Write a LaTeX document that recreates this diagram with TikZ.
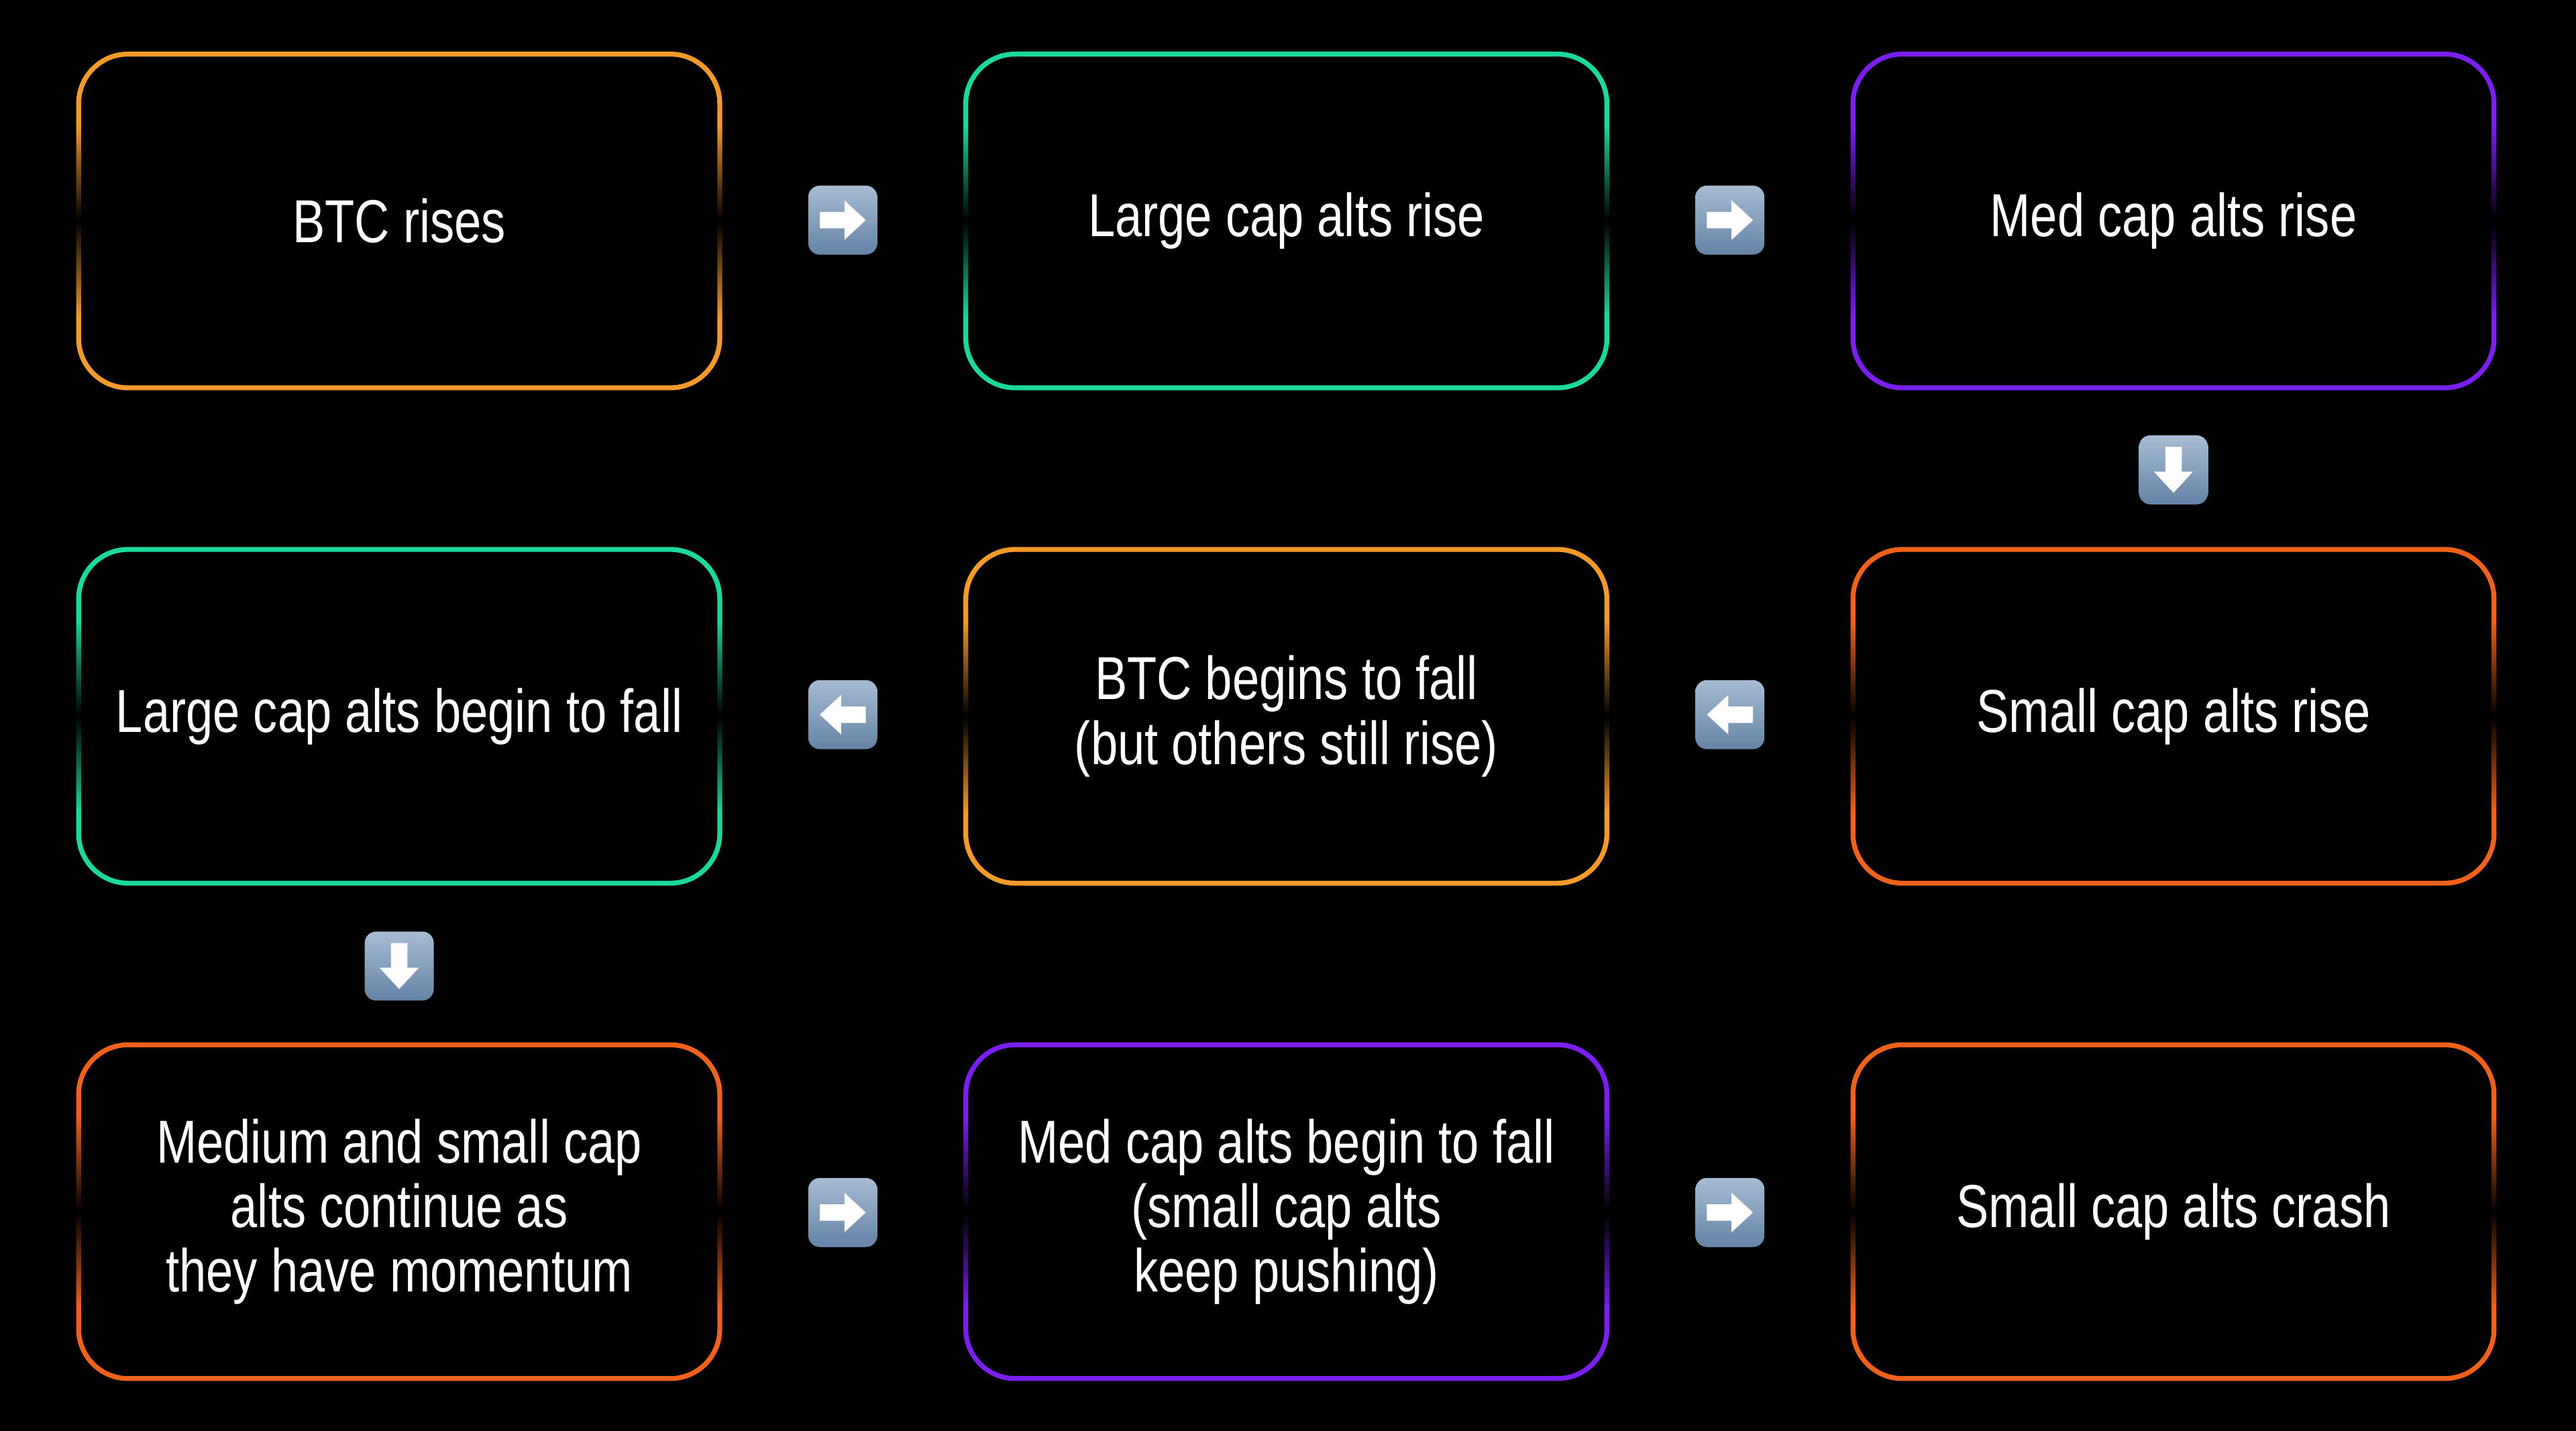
\documentclass[tikz,border=0pt]{standalone}
\usepackage{fontspec}
\setmainfont{Liberation Sans}[FakeStretch=0.8]
\usetikzlibrary{fadings}
\definecolor{cOr}{HTML}{F39A2A}
\definecolor{cRd}{HTML}{F0621C}
\definecolor{cGr}{HTML}{1BD99B}
\definecolor{cPu}{HTML}{7A1FF0}
\definecolor{icTop}{HTML}{A7BCD3}
\definecolor{icBot}{HTML}{6483A6}
\tikzfading[name=midfade, top color=transparent!100, bottom color=transparent!100, middle color=transparent!0]
\begin{document}
\begin{tikzpicture}[x=0.01cm,y=-0.01cm,
  box/.style={draw=#1, line width=0.85pt, rounded corners=0.3cm, minimum width=3.9cm, minimum height=2.03cm, text=white, align=center, font=\fontsize{10.5}{11.2}\selectfont},
  icon/.style={rounded corners=0.07cm, top color=icTop, bottom color=icBot, draw=none, minimum size=0.42cm, inner sep=0}]
\fill[black] (0,0) rectangle (1568,871);
\useasboundingbox (0,0) rectangle (1568,871);
\node[box=cOr] (a) at (243,134.5) {BTC rises};
\node[box=cGr] (b) at (783,134.5) {Large cap alts rise};
\node[box=cPu] (c) at (1323,134.5) {Med cap alts rise};
\node[box=cGr] (d) at (243,436) {Large cap alts begin to fall};
\node[box=cOr] (e) at (783,436) {BTC begins to fall\\(but others still rise)};
\node[box=cRd] (f) at (1323,436) {Small cap alts rise};
\node[box=cRd] (g) at (243,737.5) {Medium and small cap\\alts continue as\\they have momentum};
\node[box=cPu] (h) at (783,737.5) {Med cap alts begin to fall\\(small cap alts\\keep pushing)};
\node[box=cRd] (i) at (1323,737.5) {Small cap alts crash};
% fade middle of vertical sides
\foreach \n in {a,b,c,d,e,f,g,h,i}{
  \fill[black,path fading=midfade] ([xshift=-3pt,yshift=-0.45cm]\n.north west) rectangle ([xshift=3pt,yshift=0.45cm]\n.south west);
  \fill[black,path fading=midfade] ([xshift=-3pt,yshift=-0.45cm]\n.north east) rectangle ([xshift=3pt,yshift=0.45cm]\n.south east);
}
% icons
\foreach \nm/\x/\y/\r in {i1/513/134/0, i2/1053/134/0, i3/1323/286/-90, i4/513/435/180, i5/1053/435/180, i6/243/588/-90, i7/513/738/0, i8/1053/738/0}{
  \node[icon] (\nm) at (\x,\y) {};
  \fill[white, rotate around={\r:(\nm.center)}] ([shift={(-14,-5)}]\nm.center) -- ([shift={(1,-5)}]\nm.center) -- ([shift={(1,-12)}]\nm.center) -- ([shift={(14,0)}]\nm.center) -- ([shift={(1,12)}]\nm.center) -- ([shift={(1,5)}]\nm.center) -- ([shift={(-14,5)}]\nm.center) -- cycle;
}
\end{tikzpicture}
\end{document}
